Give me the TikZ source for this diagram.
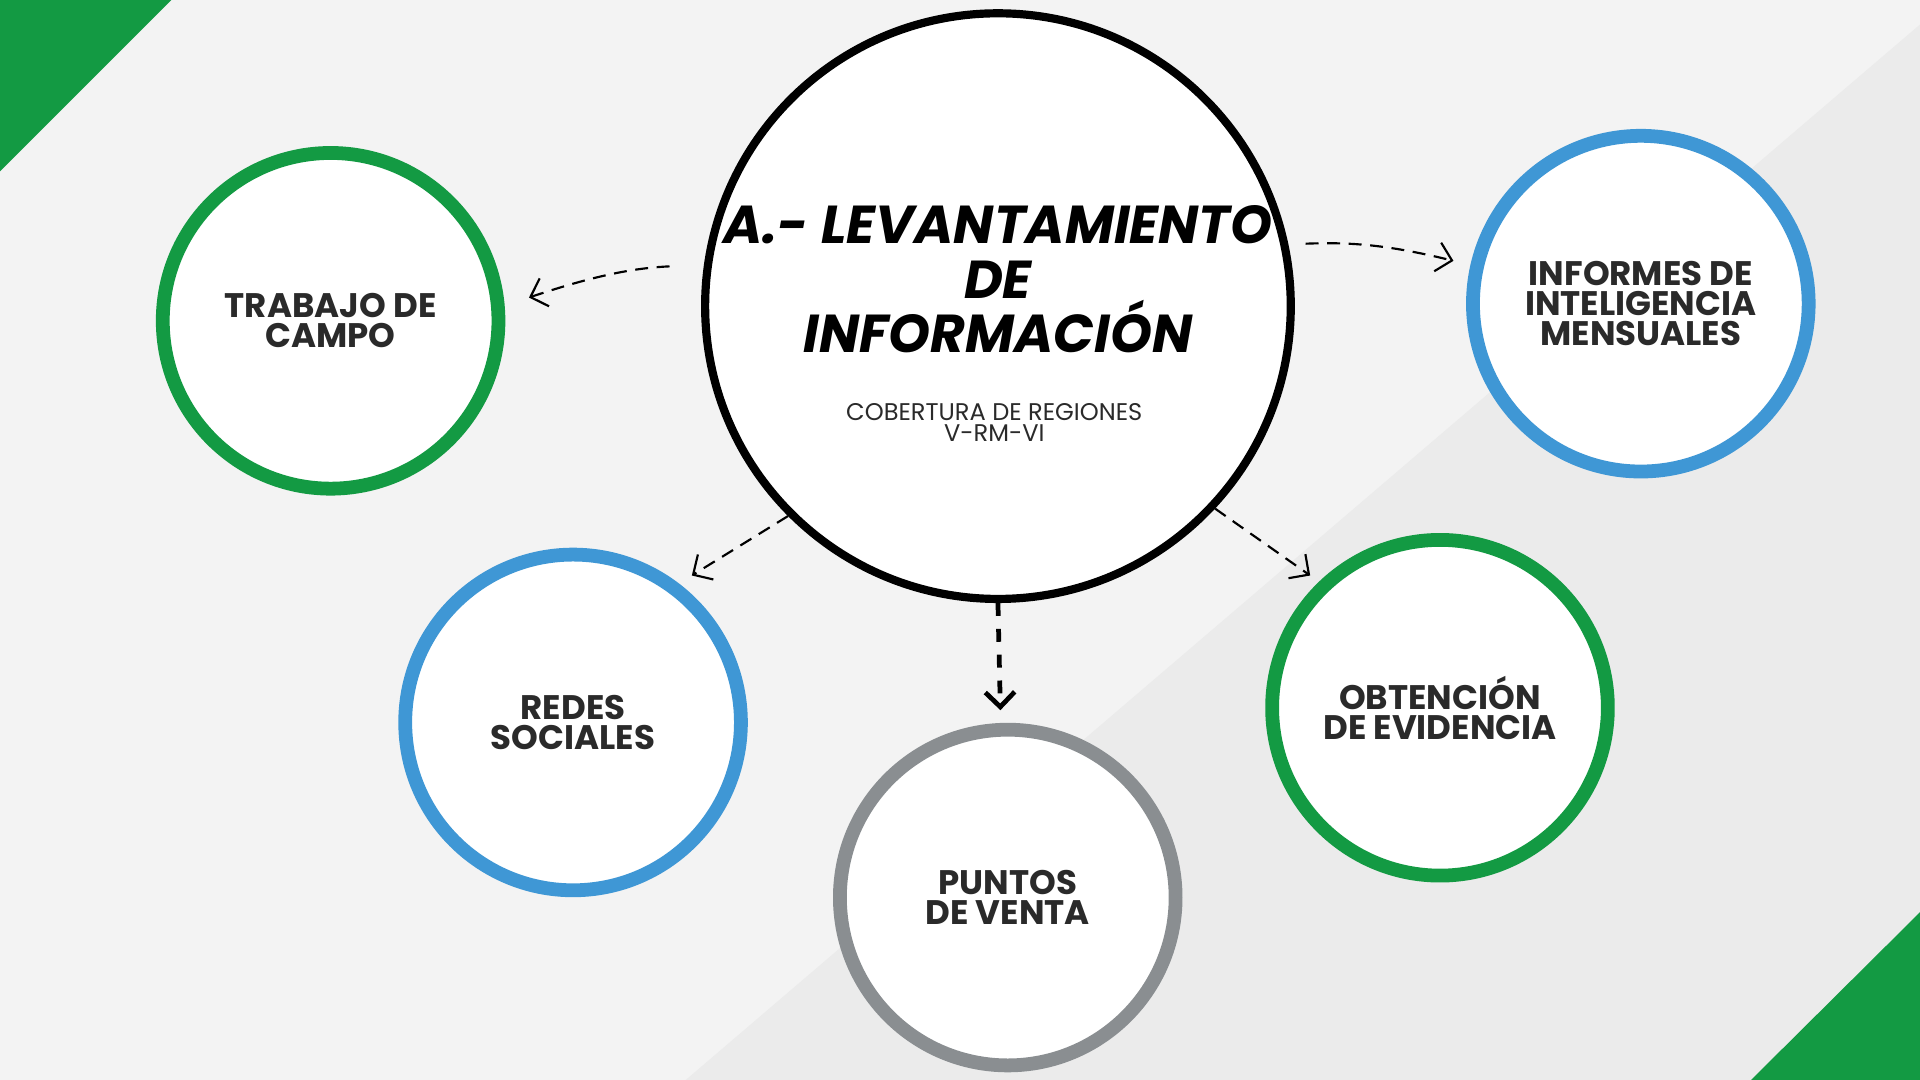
\documentclass[tikz,border=0pt]{standalone}
\usepackage{fontspec}
\setmainfont{Poppins}
\usetikzlibrary{arrows.meta}
\definecolor{leafgreen}{HTML}{139A43}
\definecolor{skyblue}{HTML}{3F97D5}
\definecolor{stonegray}{HTML}{8A8E91}
\definecolor{paleback}{HTML}{F3F3F3}
\definecolor{shadeback}{HTML}{EBEBEB}
\definecolor{inkdark}{HTML}{2A2A2A}
\tikzset{
  topic/.style={circle, draw, fill=white, line width=3.2pt, minimum size=2.74cm,
    inner sep=0pt, align=center, text=inkdark, font=\fontsize{7.9}{6.9}\selectfont\bfseries},
  flow/.style={densely dashed, line width=0.5pt, -{Straight Barb[length=1.2mm,width=2.4mm]}}
}
\begin{document}
\begin{tikzpicture}[x=0.01cm,y=-0.01cm]
  \useasboundingbox (0,0) rectangle (1568,882);
  % background
  \fill[paleback] (0,0) rectangle (1568,882);
  \fill[shadeback] (560,882) -- (1568,20) -- (1568,882) -- cycle;
  \fill[leafgreen] (0,0) -- (140,0) -- (0,140) -- cycle;
  \fill[leafgreen] (1568,745) -- (1568,882) -- (1430,882) -- cycle;
  % central circle
  \node[circle, draw, fill=white, line width=1.9pt, minimum size=4.78cm, inner sep=0pt] (lev) at (815,250) {};
  \node[align=center, font=\fontsize{12.4}{12.6}\selectfont\bfseries\itshape] (title) at (815,228)
    {A.- LEVANTAMIENTO\\DE\\INFORMACIÓN};
  \node[align=center, text=inkdark, font=\fontsize{5.6}{5}\selectfont] (sub) at (812,345)
    {COBERTURA DE REGIONES\\V-RM-VI};
  % topics
  \node[topic, draw=leafgreen] (campo) at (270,262) {TRABAJO DE\\CAMPO};
  \node[topic, draw=skyblue] (informes) at (1340,248) {INFORMES DE\\INTELIGENCIA\\MENSUALES};
  \node[topic, draw=skyblue] (redes) at (468,590) {REDES\\SOCIALES};
  \node[topic, draw=stonegray] (puntos) at (823,733) {PUNTOS\\DE VENTA};
  \node[topic, draw=leafgreen] (evid) at (1176,578) {OBTENCIÓN\\DE EVIDENCIA};
  % arrow ends
  \coordinate (campoin) at (432,243);
  \coordinate (infin) at (1187,213);
  \coordinate (redin) at (565,470);
  \coordinate (evin) at (1070,470);
  \coordinate (puntin) at (817,580);
  \draw[flow, shorten <=8pt] (lev.172) to[bend right=8] (campoin);
  \draw[flow, shorten <=4pt] (lev.12) to[bend left=8] (infin);
  \draw[flow] (lev.-135) -- (redin);
  \draw[flow] (lev.-43) -- (evin);
  \draw[flow, line width=1.1pt, dashed] (lev.-90) -- (puntin);
\end{tikzpicture}
\end{document}
